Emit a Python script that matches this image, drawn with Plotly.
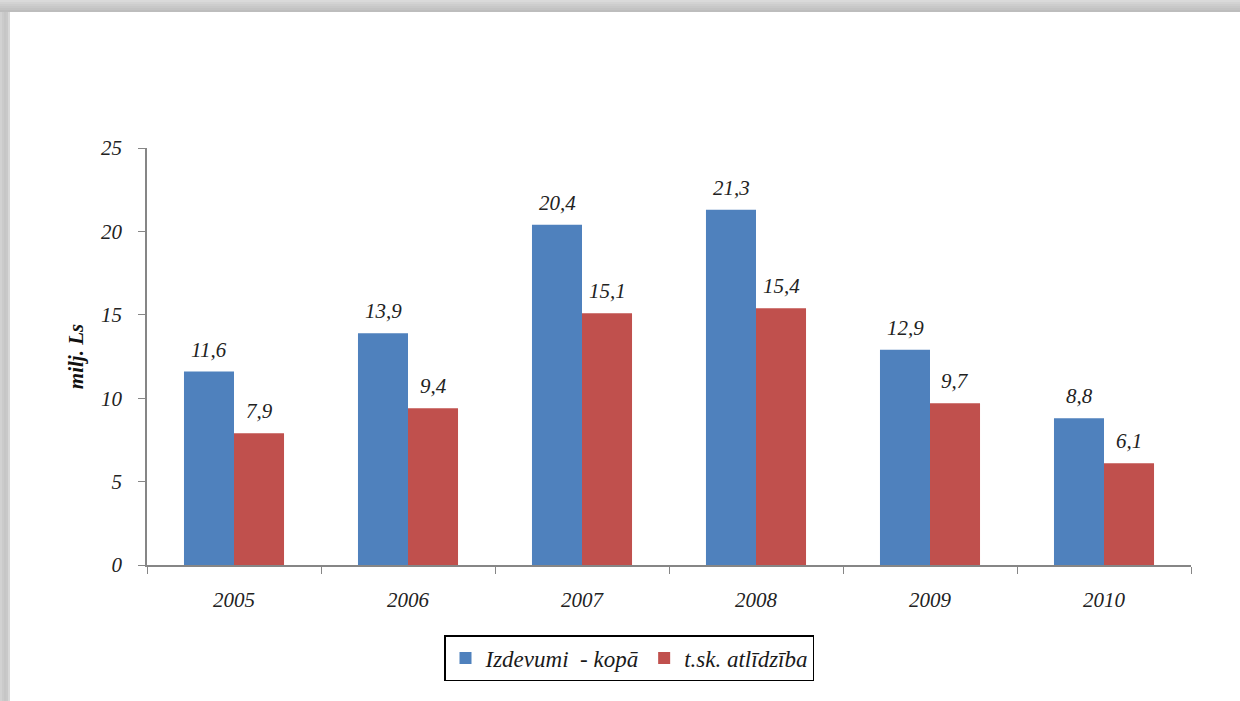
import plotly.graph_objects as go

years = ["2005", "2006", "2007", "2008", "2009", "2010"]
izdevumi = [11.6, 13.9, 20.4, 21.3, 12.9, 8.8]
atlidziba = [7.9, 9.4, 15.1, 15.4, 9.7, 6.1]
series_names = ["Izdevumi  - kopā", "t.sk. atlīdzība"]
y_ticks = [0, 5, 10, 15, 20, 25]

FONT = "Liberation Serif"
L, R, T, B = 147, 49, 148, 136
W, H = 1240, 701
PW, PH = W - L - R, H - T - B
BAR_PX = 50  # bar width in pixels, used to shift labels over each bar

def px_x(px):
    return (px - L) / PW

def px_y(py):
    return (H - B - py) / PH

def fmt(v):
    return f"{v:.1f}".replace(".", ",")

fig = go.Figure()
fig.add_trace(go.Bar(x=years, y=izdevumi, name=series_names[0],
                     marker=dict(color="#4F81BD", line=dict(width=0))))
fig.add_trace(go.Bar(x=years, y=atlidziba, name=series_names[1],
                     marker=dict(color="#C0504D", line=dict(width=0))))

annotations = []
for vals, shift in ((izdevumi, -BAR_PX / 2), (atlidziba, BAR_PX / 2)):
    for i, v in enumerate(vals):
        annotations.append(dict(
            x=i, y=v, xref="x", yref="y", text=fmt(v), showarrow=False,
            xanchor="center", yanchor="bottom", xshift=shift, yshift=8,
            font=dict(family=FONT, size=21, color="#222222", style="italic"),
        ))

shapes = []
top_cols = ["#dadada", "#d3d3d3", "#cdcdcd", "#c8c8c8", "#c3c3c3", "#bdbdbd"]
for i, c in enumerate(top_cols):
    shapes.append(dict(type="rect", xref="paper", yref="paper",
                       x0=px_x(0), x1=px_x(W), y0=px_y(i * 2), y1=px_y(i * 2 + 2),
                       fillcolor=c, line=dict(width=0), layer="below"))
left_cols = ["#d2d2d2", "#cbcbcb", "#c6c6c6", "#c9c9c9", "#d8d8d8"]
for i, c in enumerate(left_cols):
    shapes.append(dict(type="rect", xref="paper", yref="paper",
                       x0=px_x(i * 2), x1=px_x(i * 2 + 2), y0=px_y(H), y1=px_y(12),
                       fillcolor=c, line=dict(width=0), layer="below"))

fig.update_layout(
    width=W, height=H,
    margin=dict(l=L, r=R, t=T, b=B),
    paper_bgcolor="white", plot_bgcolor="white",
    barmode="group", bargap=0.425, bargroupgap=0,
    font=dict(family=FONT, size=20, color="#222222"),
    shapes=shapes,
    annotations=annotations,
    showlegend=True,
    legend=dict(
        orientation="h", x=px_x(629), xanchor="center", y=px_y(635), yanchor="top",
        bordercolor="#000000", borderwidth=1.5, bgcolor="white",
        font=dict(family=FONT, size=23, style="italic", color="#1a1a1a"),
        itemwidth=30, tracegroupgap=0,
    ),
    xaxis=dict(
        type="category", range=[-0.5, len(years) - 0.5],
        showline=True, linecolor="#868686", linewidth=1.5,
        ticks="outside", tickson="boundaries", ticklen=7, tickcolor="#868686",
        tickfont=dict(family=FONT, size=21, style="italic", color="#222222"),
        showgrid=False, ticklabelstandoff=15, tickangle=0,
    ),
    yaxis=dict(
        range=[0, 25], tickvals=y_ticks, showline=True, linecolor="#868686", linewidth=1.5,
        ticks="outside", ticklen=7, tickcolor="#868686",
        tickfont=dict(family=FONT, size=21, style="italic", color="#222222"),
        showgrid=False, zeroline=False, ticklabelstandoff=12,
        title=dict(text="<b>milj. Ls</b>", standoff=12,
                   font=dict(family=FONT, size=21, style="italic", color="#111111")),
    ),
)

fig.write_html("out.html", config={"displayModeBar": False},
               post_script="document.body.style.margin='0px';document.body.style.overflow='hidden';")
